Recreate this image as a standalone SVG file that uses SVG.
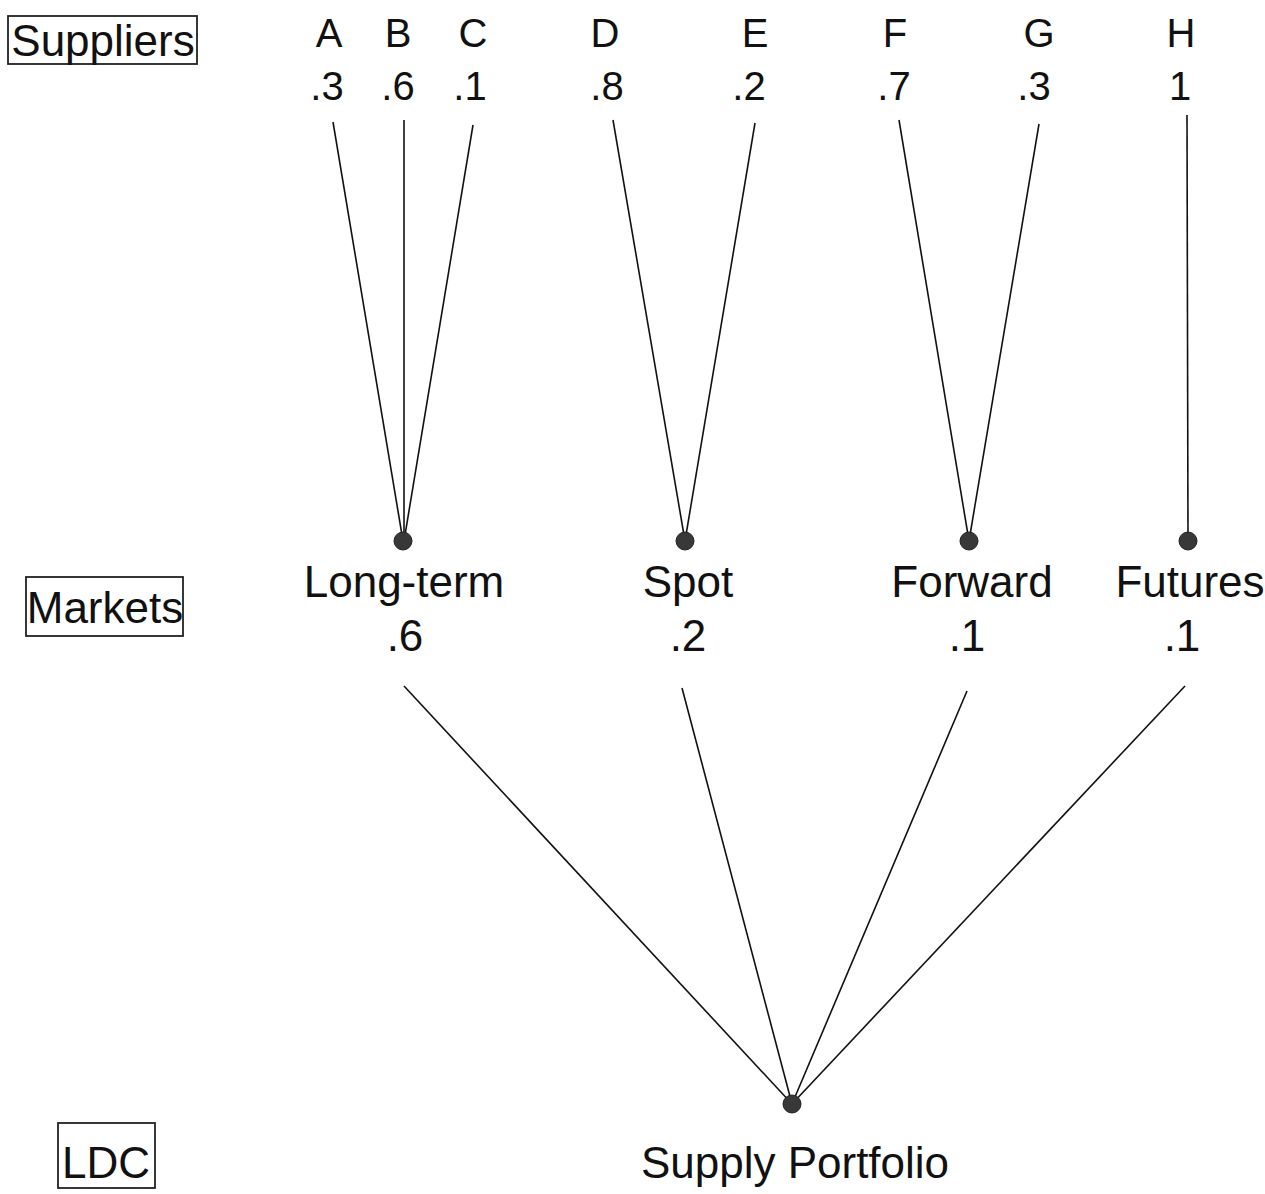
<svg xmlns="http://www.w3.org/2000/svg" width="1265" height="1194" viewBox="0 0 1265 1194">
<style>
text{font-family:"Liberation Sans",Arial,sans-serif;fill:#111;text-anchor:middle}
.t{font-size:40px}
.m{font-size:44px}
.box{fill:none;stroke:#222;stroke-width:1.8}
.ln{stroke:#111;stroke-width:1.6;fill:none}
.dot{fill:#383838;stroke:#222;stroke-width:1}
</style>
<rect width="1265" height="1194" fill="#fff"/>
<g id="connectors">
<line class="ln" x1="333" y1="122" x2="403" y2="541"/>
<line class="ln" x1="404" y1="120" x2="404" y2="541"/>
<line class="ln" x1="473" y1="125" x2="404" y2="541"/>
<line class="ln" x1="613" y1="120" x2="685" y2="541"/>
<line class="ln" x1="755" y1="123" x2="685" y2="541"/>
<line class="ln" x1="899" y1="120" x2="969" y2="541"/>
<line class="ln" x1="1039" y1="124" x2="969" y2="541"/>
<line class="ln" x1="1187" y1="115" x2="1188" y2="541"/>
<line class="ln" x1="404" y1="686" x2="792" y2="1104"/>
<line class="ln" x1="682" y1="688" x2="792" y2="1104"/>
<line class="ln" x1="967" y1="691" x2="792" y2="1104"/>
<line class="ln" x1="1185" y1="686" x2="792" y2="1104"/>
</g>
<g id="label-suppliers"><rect class="box" x="8" y="16" width="189" height="48"/><text class="m" x="103" y="56">Suppliers</text></g>
<g id="label-markets"><rect class="box" x="26" y="577" width="157" height="59"/><text class="m" x="105" y="623">Markets</text></g>
<g id="label-ldc"><rect class="box" x="58" y="1123" width="97" height="65"/><text class="m" x="106" y="1178">LDC</text></g>
<g id="supplier-A"><text class="t" x="329" y="47">A</text><text class="t" x="327" y="100">.3</text></g>
<g id="supplier-B"><text class="t" x="398" y="47">B</text><text class="t" x="398" y="100">.6</text></g>
<g id="supplier-C"><text class="t" x="473" y="47">C</text><text class="t" x="470" y="100">.1</text></g>
<g id="supplier-D"><text class="t" x="605" y="47">D</text><text class="t" x="607" y="100">.8</text></g>
<g id="supplier-E"><text class="t" x="755" y="47">E</text><text class="t" x="749" y="100">.2</text></g>
<g id="supplier-F"><text class="t" x="895" y="47">F</text><text class="t" x="894" y="100">.7</text></g>
<g id="supplier-G"><text class="t" x="1039" y="47">G</text><text class="t" x="1034" y="100">.3</text></g>
<g id="supplier-H"><text class="t" x="1181" y="47">H</text><text class="t" x="1180" y="100">1</text></g>
<g id="market-longterm"><circle class="dot" cx="403" cy="541" r="9"/><text class="m" x="404" y="597">Long-term</text><text class="m" x="405" y="651">.6</text></g>
<g id="market-spot"><circle class="dot" cx="685" cy="541" r="9"/><text class="m" x="688" y="597">Spot</text><text class="m" x="688" y="651">.2</text></g>
<g id="market-forward"><circle class="dot" cx="969" cy="541" r="9"/><text class="m" x="972" y="597">Forward</text><text class="m" x="967" y="651">.1</text></g>
<g id="market-futures"><circle class="dot" cx="1188" cy="541" r="9"/><text class="m" x="1190" y="597">Futures</text><text class="m" x="1182" y="651">.1</text></g>
<g id="supply-portfolio"><circle class="dot" cx="792" cy="1104" r="9"/><text class="m" x="795" y="1178">Supply Portfolio</text></g>
</svg>
